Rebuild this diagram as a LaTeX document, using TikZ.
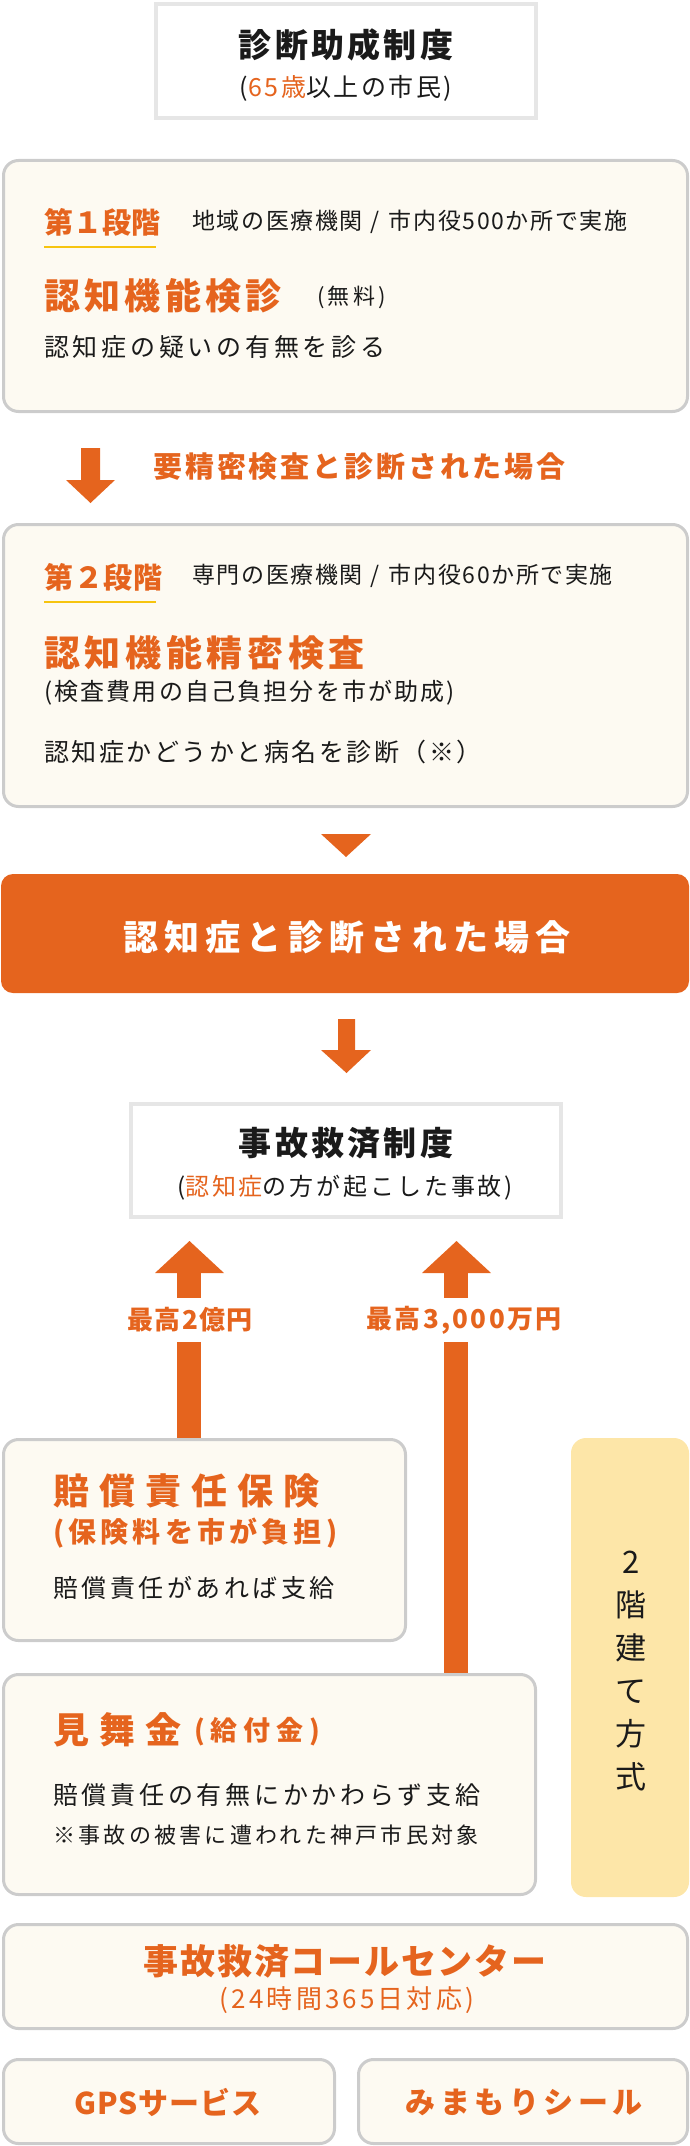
\documentclass[tikz,border=0pt]{standalone}
\usepackage{fontspec}
\setmainfont{Noto Sans CJK JP}
\definecolor{or}{HTML}{E5641E}
\definecolor{cream}{HTML}{FDFAF2}
\definecolor{bd}{HTML}{CCCCCC}
\definecolor{lg}{HTML}{E6E6E6}
\definecolor{yl}{HTML}{F6C40F}
\definecolor{pale}{HTML}{FDE6A8}
\definecolor{ink}{HTML}{1A1A1A}
\newcommand\tx[3]{\fontsize{#1pt}{#1pt}\selectfont\addfontfeature{LetterSpace=#2}#3}
\newcommand\sla{\hspace{8pt}/\hspace{9pt}}
\begin{document}
\begin{tikzpicture}[x=1pt,y=-1pt,
  cbox/.style={draw=bd, line width=3pt, fill=cream, rounded corners=15pt, inner sep=0pt},
  wbox/.style={draw=lg, line width=4pt, fill=white, inner sep=0pt},
  t/.style={inner sep=0pt, text=ink},
  tl/.style={inner sep=0pt, text=ink, anchor=west},
  uline/.style={draw=yl, line width=2pt},
  blk/.style={fill=or}]
\useasboundingbox (0,0) rectangle (690,2146);

% top box
\node[wbox, minimum width=380pt, minimum height=114pt] (top) at (346,61) {};
\node[t] (t1) at (346,45) {\bfseries\tx{33}{10}{診断助成制度}};
\node[t] (t1s) at (346,88) {\tx{25}{10}{(\textcolor{or}{65歳}以上の市民)}};

% stage 1
\node[cbox, minimum width=684pt, minimum height=251pt] (b1) at (345.5,286) {};
\node[tl] (s1) at (44,222) {\bfseries\color{or}\tx{29}{0}{第１段階}};
\coordinate (u1a) at (44,247); \coordinate (u1b) at (156,247);
\draw[uline] (u1a) -- (u1b);
\node[tl] (s1d) at (192,222) {\tx{23}{7}{地域の医療機関\sla 市内役500か所で実施}};
\node[tl] (s1t) at (44,296) {\bfseries\color{or}\tx{36}{12}{認知機能検診}};
\node[tl] (s1f) at (317,297) {\tx{22}{15}{(無料)}};
\node[tl] (s1x) at (44,347) {\tx{25}{15}{認知症の疑いの有無を診る}};

% arrow 1
\fill[blk] (81,448) -- (100,448) -- (100,480) -- (115,480) -- (90.5,503) -- (66,480) -- (81,480) -- cycle;
\node[tl] (a1l) at (153,467) {\bfseries\color{or}\tx{29}{10}{要精密検査と診断された場合}};

% stage 2
\node[cbox, minimum width=684pt, minimum height=282pt] (b2) at (345.5,665.5) {};
\node[tl] (s2) at (44,577) {\bfseries\color{or}\tx{29}{3}{第２段階}};
\coordinate (u2a) at (44,602); \coordinate (u2b) at (156,602);
\draw[uline] (u2a) -- (u2b);
\node[tl] (s2d) at (192,576) {\tx{23}{7}{専門の医療機関\sla 市内役60か所で実施}};
\node[tl] (s2t) at (44,653) {\bfseries\color{or}\tx{36}{13}{認知機能精密検査}};
\node[tl] (s2f) at (44,693) {\tx{24}{9}{(検査費用の自己負担分を市が助成)}};
\node[tl] (s2x) at (44,752) {\tx{25}{10}{認知症かどうかと病名を診断（※）}};

% triangle
\fill[blk] (321,834) -- (371,834) -- (346,857) -- cycle;

% band
\node[fill=or, rounded corners=12pt, minimum width=688pt, minimum height=119pt, inner sep=0pt] (band) at (345,933.5) {};
\node[inner sep=0pt] (bt) at (347,937) {\bfseries\color{white}\tx{35}{18}{認知症と診断された場合}};

% arrow 2
\fill[blk] (338,1019) -- (355,1019) -- (355,1050) -- (371,1050) -- (346.5,1073) -- (321,1050) -- (338,1050) -- cycle;

% accident relief box
\node[wbox, minimum width=430pt, minimum height=113pt] (acc) at (346,1160.5) {};
\node[t] (at) at (346,1143) {\bfseries\tx{33}{10}{事故救済制度}};
\node[t] (as) at (345,1188) {\tx{24}{12}{(\textcolor{or}{認知症}の方が起こした事故)}};

% up arrows
\fill[blk] (155,1273) -- (189.5,1241) -- (224,1273) -- cycle;
\fill[blk] (177,1272) rectangle (201,1298);
\fill[blk] (177,1342) rectangle (201,1439);
\node[inner sep=0pt] (l1) at (190,1320) {\bfseries\color{or}\tx{26}{5}{最高2億円}};

\fill[blk] (422,1273) -- (456.5,1241) -- (491,1273) -- cycle;
\fill[blk] (444,1272) rectangle (468,1298);
\fill[blk] (444,1342) rectangle (468,1675);
\node[inner sep=0pt] (l2) at (464,1320) {\bfseries\color{or}\tx{26}{9}{最高3,000万円}};

% liability insurance
\node[cbox, minimum width=402pt, minimum height=201pt] (bai) at (204.5,1540) {};
\node[tl] (bt1) at (53,1491) {\bfseries\color{or}\tx{36}{28}{賠償責任保険}};
\node[tl] (bt2) at (53,1533) {\bfseries\color{or}\tx{28}{15}{(保険料を市が負担)}};
\node[tl] (bt3) at (53,1588) {\tx{25}{14}{賠償責任があれば支給}};

% mimaikin
\node[cbox, minimum width=532pt, minimum height=220pt] (mim) at (269.5,1784.5) {};
\node[tl] (mt1) at (53,1730) {\bfseries\color{or}\tx{36}{28}{見舞金}};
\node[tl] (mt1b) at (194,1732) {\bfseries\color{or}\tx{27}{22}{(給付金)}};
\node[tl] (mt2) at (53,1795) {\tx{25}{15}{賠償責任の有無にかかわらず支給}};
\node[tl] (mt3) at (53,1835) {\tx{22}{15}{※事故の被害に遭われた神戸市民対象}};

% two-storey
\node[fill=pale, rounded corners=15pt, minimum width=118pt, minimum height=459pt, inner sep=0pt] (two) at (630,1667.5) {};
\node[t, align=center, font={\fontsize{31pt}{43pt}\selectfont}] (twot) at (631,1671) {2\\階\\建\\て\\方\\式};

% call center
\node[cbox, minimum width=684pt, minimum height=104pt] (call) at (345.5,1976.5) {};
\node[inner sep=0pt] (ct1) at (345,1961) {\bfseries\color{or}\tx{35}{5}{事故救済コールセンター}};
\node[inner sep=0pt] (ct2) at (347,2000) {\color{or}\tx{26}{12}{(24時間365日対応)}};

% bottom
\node[cbox, minimum width=331pt, minimum height=84pt] (gps) at (169,2101.5) {};
\node[inner sep=0pt] (gt) at (168,2102) {\bfseries\color{or}\tx{30}{3}{GPSサービス}};
\node[cbox, minimum width=329pt, minimum height=84pt] (mms) at (523,2101.5) {};
\node[inner sep=0pt] (mmt) at (524,2102) {\bfseries\color{or}\tx{30}{15}{みまもりシール}};
\end{tikzpicture}
\end{document}
